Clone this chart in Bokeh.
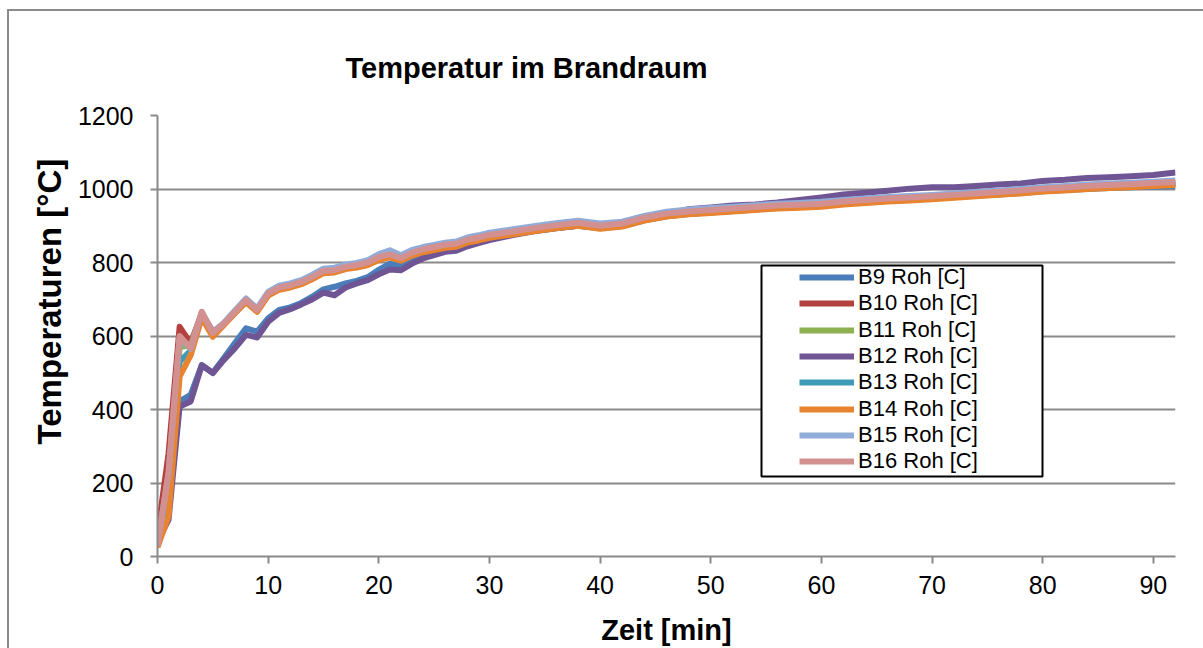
from bokeh.plotting import figure
from bokeh.models import Legend, LegendItem, BoxAnnotation, FixedTicker, Range1d, Title
from bokeh.embed import file_html
from bokeh.resources import INLINE

TIME_MIN = list(range(0, 31)) + list(range(32, 93, 2))

B9 = [45, 130, 422, 440, 520, 500, 540, 581, 621, 612,
      648, 671, 678, 690, 707, 727, 734, 743, 750, 760,
      780, 797, 790, 803, 815, 824, 833, 836, 848, 856, 864,
      876, 886, 894, 900, 893, 899, 915, 926, 932, 936, 940, 944, 948, 951, 955,
      960, 964, 968, 971, 974, 978, 982, 985, 989, 994, 997, 1000, 1003, 1005, 1006, 1008]
B10 = [60, 280, 625, 580, 662, 612, 632, 664, 696, 670,
       714, 730, 736, 745, 759, 775, 777, 786, 791, 798,
       813, 820, 810, 825, 834, 840, 846, 849, 860, 866, 873,
       882, 891, 899, 906, 898, 904, 920, 931, 937, 941, 945, 949, 953, 955, 958,
       964, 968, 972, 975, 978, 982, 986, 990, 994, 999, 1002, 1006, 1009, 1011, 1014, 1017]
B11 = [40, 200, 570, 575, 660, 607, 633, 665, 695, 669,
       713, 729, 735, 744, 758, 774, 776, 785, 789, 796,
       811, 818, 808, 822, 831, 837, 843, 846, 857, 863, 870,
       879, 888, 896, 903, 895, 901, 917, 928, 934, 938, 942, 946, 950, 952, 955,
       961, 965, 969, 972, 975, 979, 983, 987, 991, 996, 999, 1003, 1006, 1008, 1011, 1014]
B12 = [40, 100, 408, 422, 521, 499, 535, 567, 603, 596,
       639, 663, 673, 686, 700, 718, 711, 732, 743, 752,
       768, 781, 779, 797, 811, 820, 829, 832, 844, 853, 861,
       874, 885, 893, 900, 895, 900, 918, 930, 945, 950, 955, 958, 963, 970, 977,
       985, 990, 995, 1001, 1005, 1005, 1008, 1012, 1015, 1022, 1025, 1030, 1032, 1035, 1038, 1045]
B13 = [35, 190, 530, 560, 658, 605, 632, 664, 694, 668,
       712, 728, 734, 743, 757, 773, 775, 784, 788, 795,
       810, 817, 807, 821, 830, 836, 842, 845, 856, 862, 869,
       878, 887, 895, 902, 894, 900, 916, 927, 933, 937, 941, 945, 949, 951, 954,
       960, 964, 968, 971, 974, 978, 982, 986, 990, 995, 998, 1002, 1005, 1007, 1010, 1013]
B14 = [25, 110, 490, 548, 650, 598, 630, 662, 692, 666,
       710, 726, 732, 741, 755, 771, 773, 782, 786, 793,
       807, 814, 805, 819, 828, 834, 840, 843, 854, 860, 867,
       876, 885, 893, 900, 892, 898, 914, 925, 931, 935, 939, 943, 947, 949, 952,
       958, 962, 966, 969, 972, 976, 980, 984, 988, 993, 996, 1000, 1003, 1005, 1008, 1011]
B15 = [32, 225, 595, 565, 664, 610, 636, 669, 702, 675,
       720, 737, 743, 752, 767, 783, 786, 794, 799, 806,
       823, 833, 820, 834, 842, 848, 854, 857, 868, 874, 881,
       890, 899, 907, 914, 906, 911, 927, 938, 944, 948, 952, 956, 960, 962, 965,
       970, 974, 978, 981, 984, 988, 992, 996, 1000, 1005, 1008, 1012, 1015, 1017, 1020, 1023]
B16 = [30, 230, 600, 567, 666, 608, 634, 666, 698, 671,
       716, 732, 738, 747, 761, 777, 779, 788, 793, 800,
       815, 822, 812, 827, 836, 842, 848, 851, 862, 868, 875,
       884, 893, 901, 908, 900, 906, 922, 933, 939, 943, 947, 951, 955, 957, 960,
       966, 970, 974, 977, 980, 984, 988, 992, 996, 1001, 1004, 1008, 1011, 1013, 1016, 1019]

SERIES_NAMES = ["B9 Roh [C]", "B10 Roh [C]", "B11 Roh [C]", "B12 Roh [C]",
                "B13 Roh [C]", "B14 Roh [C]", "B15 Roh [C]", "B16 Roh [C]"]
SERIES_VALUES = [B9, B10, B11, B12, B13, B14, B15, B16]
COLORS = ["#4a7dba", "#b4413e", "#8db050", "#6f5594",
          "#3f9cb8", "#e8832f", "#91acd8", "#d39090"]

X_TICKS = [0, 10, 20, 30, 40, 50, 60, 70, 80, 90]
Y_TICKS = [0, 200, 400, 600, 800, 1000, 1200]

FONT = "Liberation Sans"
GRAY = "#8a8a8a"

p = figure(width=1203, height=648, output_backend="svg", toolbar_location=None,
           x_range=Range1d(0, 92), y_range=Range1d(0, 1200),
           min_border_left=157, min_border_right=28, min_border_top=115,
           min_border_bottom=91, title="Temperatur im Brandraum")
p.outline_line_color = None
p.background_fill_color = "white"
p.border_fill_color = None
p.styles = {
    "background-color": "white",
    "background-image": "linear-gradient(#8a8a8a, #8a8a8a), linear-gradient(#8a8a8a, #8a8a8a)",
    "background-size": "2px 100%, 100% 2px",
    "background-position": "7px 9px, 7px 9px",
    "background-repeat": "no-repeat",
}

p.title.align = "left"
p.title.offset = 188
p.title.standoff = 63
p.title.text_font = FONT
p.title.text_font_size = "29px"
p.title.text_font_style = "bold"
p.title.text_color = "black"

for ax in (p.xaxis[0], p.yaxis[0]):
    ax.axis_line_color = GRAY
    ax.axis_line_width = 2
    ax.major_tick_line_color = GRAY
    ax.major_tick_line_width = 2
    ax.major_tick_in = 0
    ax.major_tick_out = 7
    ax.minor_tick_line_color = None
    ax.major_label_text_font = FONT
    ax.major_label_text_font_size = "25px"
    ax.major_label_text_color = "black"
    ax.axis_label_text_font = FONT
    ax.axis_label_text_font_style = "bold"
    ax.axis_label_text_color = "black"

p.xaxis.ticker = FixedTicker(ticks=X_TICKS)
p.yaxis.ticker = FixedTicker(ticks=Y_TICKS)
p.xaxis.axis_label = "Zeit [min]"
p.xaxis.axis_label_text_font_size = "29px"
p.xaxis.major_label_standoff = 12
p.yaxis.major_label_standoff = 17
p.xaxis.axis_label_standoff = 17

ylabel = Title(text="Temperaturen [°C]", align="left", offset=112, standoff=14,
               text_font=FONT, text_font_size="33px", text_font_style="bold",
               text_color="black")
p.add_layout(ylabel, "left")

p.xgrid.grid_line_color = None
p.ygrid.grid_line_color = GRAY
p.ygrid.grid_line_width = 2

renderers = []
for name, vals, col in zip(SERIES_NAMES, SERIES_VALUES, COLORS):
    r = p.line(TIME_MIN, vals, line_color=col, line_width=6, line_join="round")
    renderers.append(r)

legend_box = BoxAnnotation(left=761, right=1042, top=265, bottom=476,
                           left_units="canvas", right_units="canvas",
                           top_units="canvas", bottom_units="canvas",
                           fill_color="white", fill_alpha=1,
                           line_color="black", line_alpha=1, line_width=2)
p.add_layout(legend_box)

# one legend row per series so the rows can sit as tightly as in the original
ROW_PITCH = 26.4
for i, (name, r) in enumerate(zip(SERIES_NAMES, renderers)):
    lg = Legend(items=[LegendItem(label=name, renderers=[r])],
                location=(642, round(263.3 - ROW_PITCH * i)),
                orientation="vertical", padding=0, margin=0, spacing=0,
                glyph_width=55, glyph_height=32, label_height=32,
                label_standoff=4,
                label_text_font=FONT, label_text_font_size="22px",
                label_text_color="black", label_text_baseline="middle",
                border_line_color=None, background_fill_alpha=0)
    p.add_layout(lg, "center")

open("out.html", "w").write(file_html(p, INLINE))
